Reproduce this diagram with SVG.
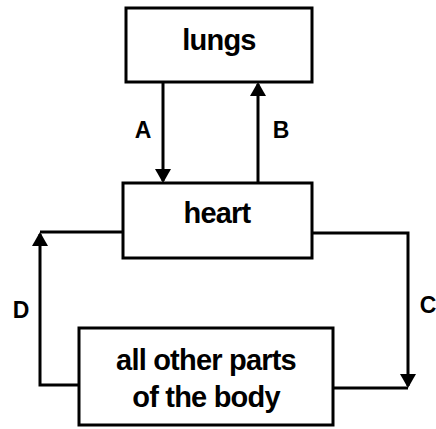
<svg xmlns="http://www.w3.org/2000/svg" width="436" height="429" viewBox="0 0 436 429">
<style>
.box{fill:#fff;stroke:#000;stroke-width:3}
.lbl{font-family:"Liberation Sans",Arial,sans-serif;font-weight:bold;font-size:29px;fill:#000;text-anchor:middle;letter-spacing:-0.8px}
.let{font-family:"Liberation Sans",Arial,sans-serif;font-weight:bold;font-size:23px;fill:#000;text-anchor:middle}
.con{fill:none;stroke:#000;stroke-width:3}
</style>
<defs>
<marker id="ah" viewBox="0 0 14 16" refX="12" refY="8" markerWidth="14" markerHeight="16" markerUnits="userSpaceOnUse" orient="auto">
<path d="M0,0 L14,8 L0,16 z" fill="#000"/>
</marker>
</defs>
<rect width="436" height="429" fill="#fff"/>
<g id="connectors">
<path id="A" class="con" d="M163,82 V181" marker-end="url(#ah)"/>
<path id="B" class="con" d="M258,183 V84" marker-end="url(#ah)"/>
<path class="con" d="M123,232 H40"/>
<path id="D" class="con" d="M79,385 H40 V234" marker-end="url(#ah)"/>
<path class="con" d="M333,388 H408"/>
<path id="C" class="con" d="M312,233 H408 V386" marker-end="url(#ah)"/>
<text class="let" x="143" y="138">A</text>
<text class="let" x="281" y="138">B</text>
<text class="let" x="21" y="318">D</text>
<text class="let" x="428" y="313">C</text>
</g>
<g id="lungs">
<rect class="box" x="126" y="8" width="186" height="74"/>
<text class="lbl" x="219" y="50">lungs</text>
</g>
<g id="heart">
<rect class="box" x="123" y="183" width="189" height="75"/>
<text class="lbl" x="217" y="223">heart</text>
</g>
<g id="body">
<rect class="box" x="79" y="328" width="254" height="97"/>
<text class="lbl" x="206" y="370">all other parts</text>
<text class="lbl" x="206" y="407">of the body</text>
</g>
</svg>
